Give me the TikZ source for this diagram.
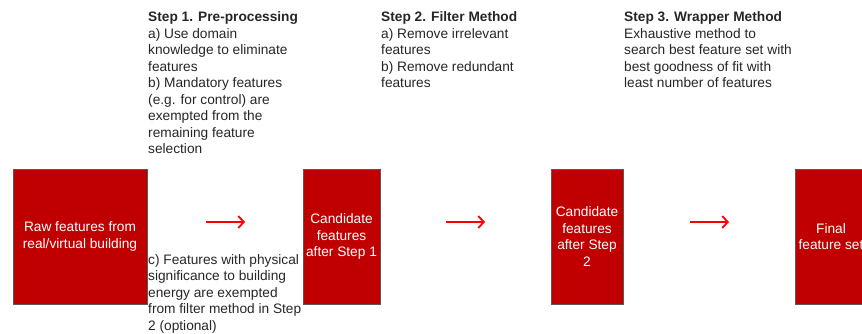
\documentclass[tikz,border=0pt]{standalone}
\usepackage{fontspec}
\setmainfont{Liberation Sans}
\usetikzlibrary{arrows.meta}
\definecolor{boxred}{HTML}{C00000}
\definecolor{boxedge}{HTML}{595959}
\definecolor{arrowred}{HTML}{FF0000}
\tikzset{
  featbox/.style={draw=boxedge, line width=0.6pt, fill=boxred, text=white,
    align=center, inner sep=0pt,
    font=\fontsize{13.7}{16.5}\selectfont},
  % notes are placed by the baseline of their last line
  note/.style={anchor=base west, align=left, inner sep=0pt,
    text=black!85, font=\fontsize{13.7}{16.5}\selectfont},
  flow/.style={draw=arrowred, line width=1.8pt,
    -{Straight Barb[length=5.5pt,width=12pt,line width=1.8pt]}}
}
\begin{document}
\begin{tikzpicture}[x=1pt,y=-1pt]
  \useasboundingbox (0,0) rectangle (862,333);
  \clip (0,0) rectangle (862,333);

  % feature boxes
  \node[featbox, minimum width=134pt, minimum height=135pt] (raw) at (80,236.5)
    {Raw features from\\real/virtual building};
  \node[featbox, minimum width=77pt, minimum height=135pt] (cand1) at (341.5,236.5)
    {Candidate\\features\\after Step 1};
  \node[featbox, minimum width=72pt, minimum height=135pt] (cand2) at (587,236.5)
    {Candidate\\features\\after Step\\2};
  \node[featbox, minimum width=72pt, minimum height=135pt] (final) at (831,236.5)
    {Final\\feature set};

  % step descriptions
  \node[note] (step1) at (148,153.5)
    {\textbf{Step 1. Pre-processing}\\
     a) Use domain\\knowledge to eliminate\\features\\
     b) Mandatory features\\(e.g. for control) are\\exempted from the\\
     remaining feature\\selection};
  \node[note] (step2) at (381,87.5)
    {\textbf{Step 2. Filter Method}\\
     a) Remove irrelevant\\features\\
     b) Remove redundant\\features};
  \node[note] (step3) at (624,87.5)
    {\textbf{Step 3. Wrapper Method}\\
     Exhaustive method to\\search best feature set with\\
     best goodness of fit with\\least number of features};
  \node[note] (stepc) at (148,330)
    {c) Features with physical\\significance to building\\
     energy are exempted\\from filter method in Step\\2 (optional)};

  % arrows between stages
  \coordinate (a1s) at (206,222); \coordinate (a1e) at (245,222);
  \coordinate (a2s) at (446,222); \coordinate (a2e) at (485,222);
  \coordinate (a3s) at (690,222); \coordinate (a3e) at (729,222);
  \draw[flow] (a1s) -- (a1e);
  \draw[flow] (a2s) -- (a2e);
  \draw[flow] (a3s) -- (a3e);
\end{tikzpicture}
\end{document}
